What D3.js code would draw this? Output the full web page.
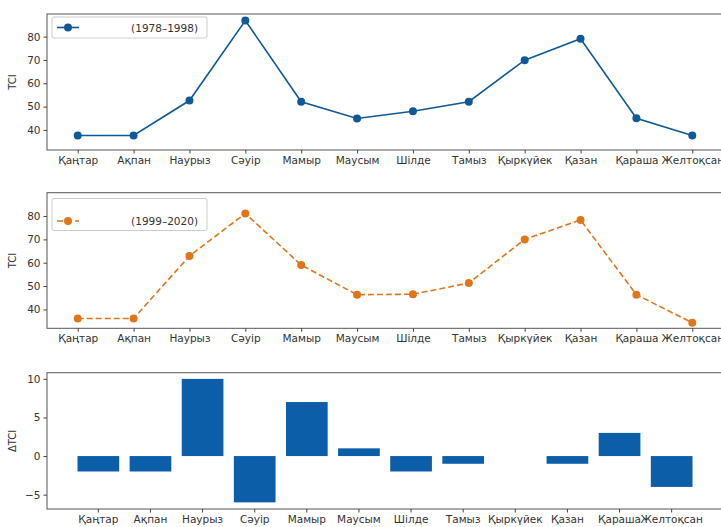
<!DOCTYPE html>
<html>
<head>
<meta charset="utf-8">
<script src="https://cdn.jsdelivr.net/npm/d3@7"></script>
<style>
body { margin: 0; background: #fff; }
text { font-family: "DejaVu Sans", sans-serif; fill: #333; }
</style>
</head>
<body>
<svg id="chart" width="721" height="527"></svg>
<script>
var months = ['Қаңтар', 'Ақпан', 'Наурыз', 'Сәуір', 'Мамыр', 'Маусым', 'Шілде', 'Тамыз', 'Қыркүйек', 'Қазан', 'Қараша', 'Желтоқсан'];
var tci1978 = [37.6, 37.6, 52.6, 86.9, 52.1, 44.9, 48.0, 52.1, 69.9, 79.1, 45.0, 37.6];
var tci1999 = [36.1, 36.1, 62.9, 81.1, 59.0, 46.3, 46.5, 51.3, 70.0, 78.3, 46.3, 34.3];
var deltaTci = [-2, -2, 10, -6, 7, 1, -2, -1, 0, -1, 3, -4];
var tciTicks = [40, 50, 60, 70, 80];
var deltaTicks = [-5, 0, 5, 10];

var svg = d3.select('#chart');
var left = 47, right = 723;
var blue = '#0f5a96', orange = '#e0761c', barBlue = '#0c5ea8';

function frame(g, top, bottom) {
    g.append('rect')
        .attr('x', left).attr('y', top)
        .attr('width', right - left).attr('height', bottom - top)
        .attr('fill', 'none').attr('stroke', '#555').attr('stroke-width', 1);
}

function yAxis(g, y, ticks, label, top, bottom) {
    var ax = g.append('g').attr('transform', 'translate(' + left + ',0)')
        .call(d3.axisLeft(y).tickValues(ticks).tickSize(3.5).tickPadding(3)
            .tickFormat(function(d) { return d < 0 ? '\u2212' + Math.abs(d) : d; }));
    ax.select('.domain').remove();
    ax.selectAll('line').attr('stroke', '#444');
    ax.selectAll('text').attr('font-size', '10.5px').style('font-family', '"DejaVu Sans", sans-serif').attr('fill', '#333');
    g.append('text')
        .attr('transform', 'translate(16,' + ((top + bottom) / 2) + ') rotate(-90)')
        .attr('text-anchor', 'middle').attr('font-size', '10px')
        .text(label);
}

function xAxis(g, x, bottom) {
    var ax = g.append('g').attr('transform', 'translate(0,' + bottom + ')')
        .call(d3.axisBottom(x).tickSize(3.5).tickPadding(3));
    ax.select('.domain').remove();
    ax.selectAll('line').attr('stroke', '#444');
    ax.selectAll('text').attr('font-size', '10.5px').style('font-family', '"DejaVu Sans", sans-serif').attr('fill', '#333');
}

function linePanel(values, top, bottom, domain, color, dashed, legendLabel, legendBox) {
    var g = svg.append('g');
    var x = d3.scalePoint().domain(months).range([left, right]).padding(0.55);
    var y = d3.scaleLinear().domain(domain).range([bottom, top]);

    var line = d3.line()
        .x(function(d, i) { return x(months[i]); })
        .y(function(d) { return y(d); });

    g.append('path').datum(values)
        .attr('d', line).attr('fill', 'none')
        .attr('stroke', color).attr('stroke-width', 1.6)
        .attr('stroke-dasharray', dashed ? '6,3' : null);

    g.selectAll('circle').data(values).enter().append('circle')
        .attr('cx', function(d, i) { return x(months[i]); })
        .attr('cy', function(d) { return y(d); })
        .attr('r', 4).attr('fill', color);

    frame(g, top, bottom);
    yAxis(g, y, tciTicks, 'TCI', top, bottom);
    xAxis(g, x, bottom);

    // legend
    var lg = g.append('g');
    lg.append('rect')
        .attr('x', legendBox.x).attr('y', legendBox.y)
        .attr('width', legendBox.w).attr('height', legendBox.h)
        .attr('rx', 2).attr('fill', '#fff').attr('stroke', '#ccc');
    var ly = legendBox.lineY;
    lg.append('line')
        .attr('x1', legendBox.x + 5).attr('x2', legendBox.x + 27)
        .attr('y1', ly).attr('y2', ly)
        .attr('stroke', color).attr('stroke-width', 1.6)
        .attr('stroke-dasharray', dashed ? '6,3' : null);
    lg.append('circle').attr('cx', legendBox.x + 16).attr('cy', ly).attr('r', 4).attr('fill', color);
    lg.append('text')
        .attr('x', legendBox.x + legendBox.w - 9).attr('y', ly + 4)
        .attr('text-anchor', 'end').attr('font-size', '10.5px')
        .text(legendLabel);
}

linePanel(tci1978, 14, 150, [31.4, 89.7], blue, false, '(1978\u20131998)',
    { x: 52, y: 17, w: 155, h: 21, lineY: 27.5 });
linePanel(tci1999, 192.7, 328.3, [31.9, 90.0], orange, true, '(1999\u20132020)',
    { x: 52, y: 198.5, w: 155, h: 32, lineY: 221 });

// bar panel
(function() {
    var top = 372.7, bottom = 509;
    var g = svg.append('g');
    var x = d3.scaleBand().domain(months).range([left, right]).paddingInner(0.2).paddingOuter(0.585);
    var y = d3.scaleLinear().domain([-6.86, 10.8]).range([bottom, top]);

    g.selectAll('rect.bar').data(deltaTci).enter().append('rect')
        .attr('class', 'bar')
        .attr('x', function(d, i) { return x(months[i]); })
        .attr('width', x.bandwidth())
        .attr('y', function(d) { return y(Math.max(0, d)); })
        .attr('height', function(d) { return Math.abs(y(d) - y(0)); })
        .attr('fill', barBlue);

    frame(g, top, bottom);
    yAxis(g, y, deltaTicks, '\u0394TCI', top, bottom);
    xAxis(g, x, bottom);
})();
</script>
</body>
</html>
